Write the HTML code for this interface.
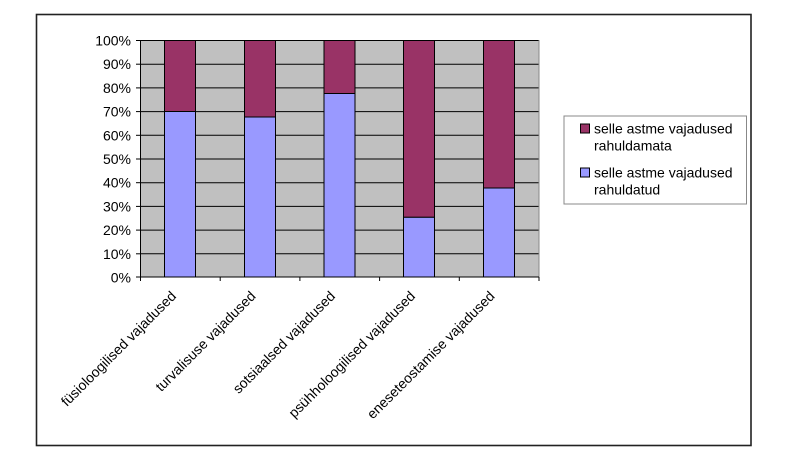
<!DOCTYPE html>
<html><head><style>body{margin:0;background:#fff}svg{display:block}text{font-family:"Liberation Sans",Arial,sans-serif}</style></head><body>
<svg width="793" height="470" xmlns="http://www.w3.org/2000/svg">
<rect x="36.5" y="14.5" width="714.5" height="431" fill="#fff" stroke="#222" stroke-width="1.6"/>
<rect x="140.5" y="40" width="398.5" height="237" fill="#c0c0c0"/>
<g stroke="#000" stroke-width="1">
<line x1="140.5" x2="539" y1="40.5" y2="40.5"/><line x1="140.5" x2="539" y1="64.2" y2="64.2"/><line x1="140.5" x2="539" y1="87.9" y2="87.9"/><line x1="140.5" x2="539" y1="111.6" y2="111.6"/><line x1="140.5" x2="539" y1="135.3" y2="135.3"/><line x1="140.5" x2="539" y1="159" y2="159"/><line x1="140.5" x2="539" y1="182.7" y2="182.7"/><line x1="140.5" x2="539" y1="206.4" y2="206.4"/><line x1="140.5" x2="539" y1="230.1" y2="230.1"/><line x1="140.5" x2="539" y1="253.8" y2="253.8"/>
</g>
<line x1="539" x2="539" y1="40" y2="277" stroke="#888" stroke-width="1"/>
<line x1="140.5" x2="140.5" y1="40" y2="281" stroke="#000"/>
<line x1="136" x2="539" y1="277" y2="277" stroke="#000"/>
<g stroke="#000"><line x1="136" x2="140.5" y1="40.5" y2="40.5"/><line x1="136" x2="140.5" y1="64.2" y2="64.2"/><line x1="136" x2="140.5" y1="87.9" y2="87.9"/><line x1="136" x2="140.5" y1="111.6" y2="111.6"/><line x1="136" x2="140.5" y1="135.3" y2="135.3"/><line x1="136" x2="140.5" y1="159" y2="159"/><line x1="136" x2="140.5" y1="182.7" y2="182.7"/><line x1="136" x2="140.5" y1="206.4" y2="206.4"/><line x1="136" x2="140.5" y1="230.1" y2="230.1"/><line x1="136" x2="140.5" y1="253.8" y2="253.8"/>
<line x1="220.2" x2="220.2" y1="277" y2="281"/><line x1="299.9" x2="299.9" y1="277" y2="281"/><line x1="379.6" x2="379.6" y1="277" y2="281"/><line x1="459.3" x2="459.3" y1="277" y2="281"/><line x1="539" x2="539" y1="277" y2="281"/></g>
<g stroke="#000" stroke-width="1">
<rect x="164.5" y="40.5" width="31" height="71" fill="#993366"/><rect x="164.5" y="111.5" width="31" height="165.5" fill="#9999ff"/>
<rect x="244.5" y="40.5" width="31" height="76.5" fill="#993366"/><rect x="244.5" y="117" width="31" height="160" fill="#9999ff"/>
<rect x="324" y="40.5" width="31" height="53" fill="#993366"/><rect x="324" y="93.5" width="31" height="183.5" fill="#9999ff"/>
<rect x="403.5" y="40.5" width="31" height="176.8" fill="#993366"/><rect x="403.5" y="217.3" width="31" height="59.7" fill="#9999ff"/>
<rect x="483.5" y="40.5" width="31" height="147.5" fill="#993366"/><rect x="483.5" y="188" width="31" height="89" fill="#9999ff"/>
</g>
<g font-size="14" text-anchor="end" fill="#000">
<text x="131" y="45.5">100%</text><text x="131" y="69.2">90%</text><text x="131" y="92.9">80%</text><text x="131" y="116.6">70%</text><text x="131" y="140.3">60%</text><text x="131" y="164">50%</text><text x="131" y="187.7">40%</text><text x="131" y="211.4">30%</text><text x="131" y="235.1">20%</text><text x="131" y="258.8">10%</text><text x="131" y="282.5">0%</text>
</g>
<g font-size="14" text-anchor="end" fill="#000">
<text transform="translate(177,297) rotate(-45)">füsioloogilised vajadused</text>
<text transform="translate(256.5,297) rotate(-45)">turvalisuse vajadused</text>
<text transform="translate(336,297) rotate(-45)">sotsiaalsed vajadused</text>
<text transform="translate(416,297) rotate(-45)">psühholoogilised vajadused</text>
<text transform="translate(495.5,297) rotate(-45)">eneseteostamise vajadused</text>
</g>
<rect x="564" y="116" width="182.5" height="88" fill="#fff" stroke="#888"/>
<rect x="580.5" y="124" width="9" height="9" fill="#993366" stroke="#000"/>
<rect x="580.5" y="168" width="9" height="9" fill="#9999ff" stroke="#000"/>
<g font-size="14" fill="#000"><text x="594" y="133.5">selle astme vajadused</text><text x="594" y="150.5">rahuldamata</text><text x="594" y="177.5">selle astme vajadused</text><text x="594" y="194.5">rahuldatud</text></g>
</svg>
</body></html>
